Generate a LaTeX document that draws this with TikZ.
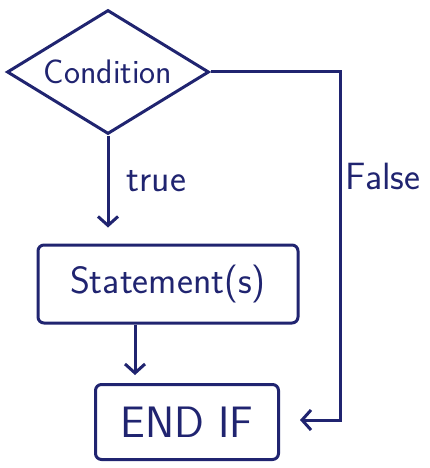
\documentclass[tikz,border=0pt]{standalone}
\usepackage{fontspec}
\usetikzlibrary{arrows, arrows.meta, positioning, shapes}
\definecolor{ink}{RGB}{32,36,112}
\tikzset{
        ->, % directed connectors
        >={Straight Barb[length=9pt,width=20pt]}, % open arrow heads like the pen drawing
        x=1pt, y=-1pt, % pixel grid of the scan
        every path/.style={draw=ink, line width=3pt},
        every node/.style={text=ink, font=\sffamily\fontsize{38}{40}\selectfont},
    }
\tikzstyle{decision}=[draw,diamond,aspect=1.63,inner sep=0pt,minimum width=202pt,minimum height=124pt,
                      font=\sffamily\fontsize{34}{36}\selectfont]
\tikzstyle{block}=[draw,rectangle,rounded corners=6pt,inner sep=0pt]
\tikzstyle{branch}=[font=\sffamily\fontsize{38}{40}\selectfont]

\begin{document}
\begin{tikzpicture}
    \useasboundingbox[draw=none] (0,0) rectangle (430,468);
    \node[decision] (cond) at (108,72) {Condition};
    \node[block,minimum width=260pt,minimum height=78pt] (stmt) at (168,284) {Statement(s)};
    \node[block,minimum width=183pt,minimum height=75pt,
          font=\sffamily\fontsize{44}{46}\selectfont] (endif) at (187,422) {END IF};
    \coordinate (fturn) at (340,72);
    \coordinate (fdown) at (340,420);

    \draw[shorten >=16pt] (cond.south) -- node[branch,pos=0.42,right=14pt] {true} (cond.south |- stmt.north);
    \draw[shorten >=8pt] ([xshift=-33pt]stmt.south) -- ([xshift=-33pt]stmt.south |- endif.north);
    \draw[shorten >=20pt] (cond.east) -- (fturn)
        -- node[branch,pos=0.3,right=1pt] {False} (fdown) -- (fdown -| endif.east);
\end{tikzpicture}
\end{document}
